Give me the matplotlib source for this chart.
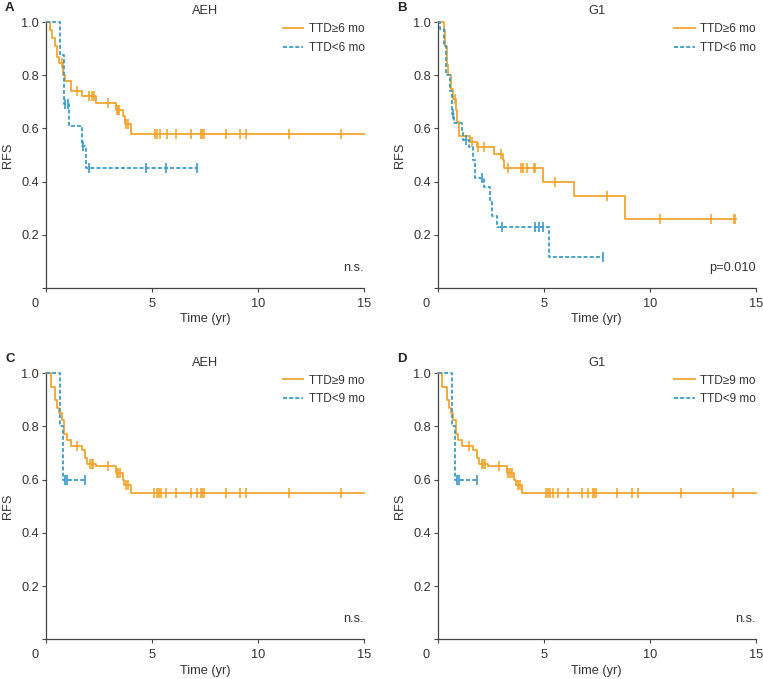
import matplotlib
matplotlib.use('Agg')
import matplotlib.pyplot as plt
import numpy as np

plt.rcParams['font.family'] = ['Liberation Sans', 'DejaVu Sans']

ORANGE = '#F2A52E'
BLUE = '#3A9BC9'
AXC = '#444444'
TXC = '#333333'
FS = 9.2

# panel A (AEH, 6 mo split)
a_hi_t = [0.19, 0.30, 0.42, 0.50, 0.60, 0.82, 0.90, 1.16, 1.71, 2.34, 3.30, 3.64, 3.71, 3.99]
a_hi_s = [0.97, 0.94, 0.91, 0.87, 0.845, 0.80, 0.78, 0.74, 0.72, 0.695, 0.67, 0.645, 0.615, 0.58]
a_hi_c = [0.75, 1.48, 2.04, 2.18, 2.28, 2.91, 3.33, 3.38, 3.46, 3.77, 3.88, 5.12, 5.22, 5.37,
          5.69, 6.11, 6.83, 7.31, 7.38, 7.46, 8.48, 9.16, 9.43, 11.47, 13.93]
a_hi_end = 15.0
a_lo_t = [0.66, 0.85, 1.07, 1.68, 1.89]
a_lo_s = [0.875, 0.69, 0.61, 0.535, 0.45]
a_lo_c = [0.91, 1.04, 1.76, 2.04, 4.74, 5.64, 7.12]
a_lo_end = 7.12

# panel B (G1, 6 mo split)
b_hi_t = [0.30, 0.35, 0.45, 0.50, 0.62, 0.72, 0.88, 0.93, 1.02, 1.52, 1.85, 2.66, 3.06, 3.13,
          4.97, 6.43, 8.83]
b_hi_s = [0.97, 0.91, 0.84, 0.80, 0.75, 0.71, 0.67, 0.625, 0.57, 0.55, 0.53, 0.505, 0.48, 0.45,
          0.40, 0.345, 0.26]
b_hi_c = [0.82, 1.60, 1.89, 2.19, 2.97, 3.33, 3.93, 4.01, 4.20, 4.54, 4.61, 5.55, 7.99, 10.49,
          12.87, 13.98, 14.04]
b_hi_end = 14.07
b_lo_t = [0.11, 0.30, 0.39, 0.58, 0.66, 0.77, 1.13, 1.21, 1.49, 1.65, 1.76, 2.19, 2.47, 2.58,
          2.78, 5.25]
b_lo_s = [0.975, 0.91, 0.80, 0.74, 0.655, 0.62, 0.59, 0.555, 0.53, 0.48, 0.415, 0.38, 0.33,
          0.27, 0.23, 0.115]
b_lo_c = [0.71, 1.32, 2.07, 3.05, 4.59, 4.79, 4.97, 7.81]
b_lo_end = 7.81

# panels C and D (9 mo split)
c_hi_t = [0.22, 0.42, 0.53, 0.63, 0.74, 0.85, 0.97, 1.16, 1.68, 1.84, 1.95, 2.36, 3.28, 3.61,
          3.68, 3.99]
c_hi_s = [0.95, 0.90, 0.87, 0.85, 0.825, 0.77, 0.75, 0.725, 0.71, 0.68, 0.66, 0.65, 0.627,
          0.60, 0.58, 0.55]
c_hi_c = [1.48, 2.07, 2.15, 2.23, 2.91, 3.33, 3.41, 3.49, 3.77, 3.88, 5.11, 5.22, 5.31, 5.42,
          5.66, 6.13, 6.83, 7.10, 7.31, 7.38, 7.46, 8.48, 9.16, 9.43, 11.47, 13.93]
c_hi_end = 15.0
c_lo_t = [0.66, 0.82]
c_lo_s = [0.80, 0.60]
c_lo_c = [0.91, 1.01, 1.84]
c_lo_end = 1.84

panels = [
    ('A', 'AEH', '6', 'n.s.', (a_hi_t, a_hi_s, a_hi_c, a_hi_end), (a_lo_t, a_lo_s, a_lo_c, a_lo_end)),
    ('B', 'G1', '6', 'p=0.010', (b_hi_t, b_hi_s, b_hi_c, b_hi_end), (b_lo_t, b_lo_s, b_lo_c, b_lo_end)),
    ('C', 'AEH', '9', 'n.s.', (c_hi_t, c_hi_s, c_hi_c, c_hi_end), (c_lo_t, c_lo_s, c_lo_c, c_lo_end)),
    ('D', 'G1', '9', 'n.s.', (c_hi_t, c_hi_s, c_hi_c, c_hi_end), (c_lo_t, c_lo_s, c_lo_c, c_lo_end)),
]

W, H = 763, 679
rects = [(46, 22, 364, 288), (437.7, 22, 755.7, 288),
         (46, 373.3, 364, 639.3), (437.7, 373.3, 755.7, 639.3)]


def km_curve(ax, data, color, ls, label):
    t, s, c, end = data
    tt = np.concatenate([[0.0], t, [end]])
    ss = np.concatenate([[1.0], s, [s[-1]]])
    ax.step(tt, ss, where='post', color=color, lw=1.3, ls=ls, label=label,
            clip_on=False, zorder=3)
    # survival at censor times
    idx = np.searchsorted(np.array(t), np.array(c), side='right')
    cs = np.concatenate([[1.0], s])[idx]
    ax.plot(c, cs, ls='none', marker='|', ms=7, mew=1.2, color=color,
            clip_on=False, zorder=4)


fig = plt.figure(figsize=(W / 100, H / 100), dpi=100)
for (letter, title, mo, note, hi, lo), (x0, y0, x1, y1) in zip(panels, rects):
    ax = fig.add_axes([x0 / W, 1 - y1 / H, (x1 - x0) / W, (y1 - y0) / H])
    km_curve(ax, hi, ORANGE, '-', 'TTD\u2265' + mo + ' mo')
    km_curve(ax, lo, BLUE, (0, (2.2, 1.2)), 'TTD<' + mo + ' mo')
    ax.set_xlim(0, 15)
    ax.set_ylim(0, 1)
    ax.set_xticks([0, 5, 10, 15])
    ax.set_xticklabels(['', '5', '10', '15'])
    ax.set_yticks([0, 0.2, 0.4, 0.6, 0.8, 1.0])
    ax.set_yticklabels(['', '0.2', '0.4', '0.6', '0.8', '1.0'])
    ax.tick_params(direction='out', length=3, width=0.8, colors=AXC, labelsize=FS,
                   labelcolor=TXC, pad=2)
    ax.tick_params(axis='x', pad=4)
    # origin label sits left of the axis corner
    ax.annotate('0', xy=(0, 0), xycoords='axes fraction', xytext=(-5.5, -7),
                textcoords='offset points', ha='right', va='top', fontsize=FS, color=TXC)
    for side in ['top', 'right']:
        ax.spines[side].set_visible(False)
    for side in ['left', 'bottom']:
        ax.spines[side].set_color(AXC)
        ax.spines[side].set_linewidth(0.9)
    ax.set_xlabel('Time (yr)', fontsize=FS, color=TXC)
    ax.xaxis.set_label_coords(0.5, -0.095)
    ax.set_ylabel('RFS', fontsize=FS, color=TXC)
    ax.yaxis.set_label_coords(-0.1, 0.5)
    ax.text(0.5, 1.04, title, transform=ax.transAxes, ha='center', va='center',
            fontsize=FS, color=TXC)
    ax.text(1.0, 0.075, note, transform=ax.transAxes, ha='right', va='center',
            fontsize=FS, color=TXC)
    ax.legend(loc='upper right', bbox_to_anchor=(1.035, 1.035), frameon=False, fontsize=8.5,
              handlelength=1.75, handletextpad=0.45, labelspacing=0.55, labelcolor=TXC)
    fig.text((x0 - 41) / W, 1 - (y0 - 14) / H, letter, fontsize=9.5, fontweight='bold',
             ha='left', va='center', color='#222222')

fig.savefig('out.png', dpi=100)
